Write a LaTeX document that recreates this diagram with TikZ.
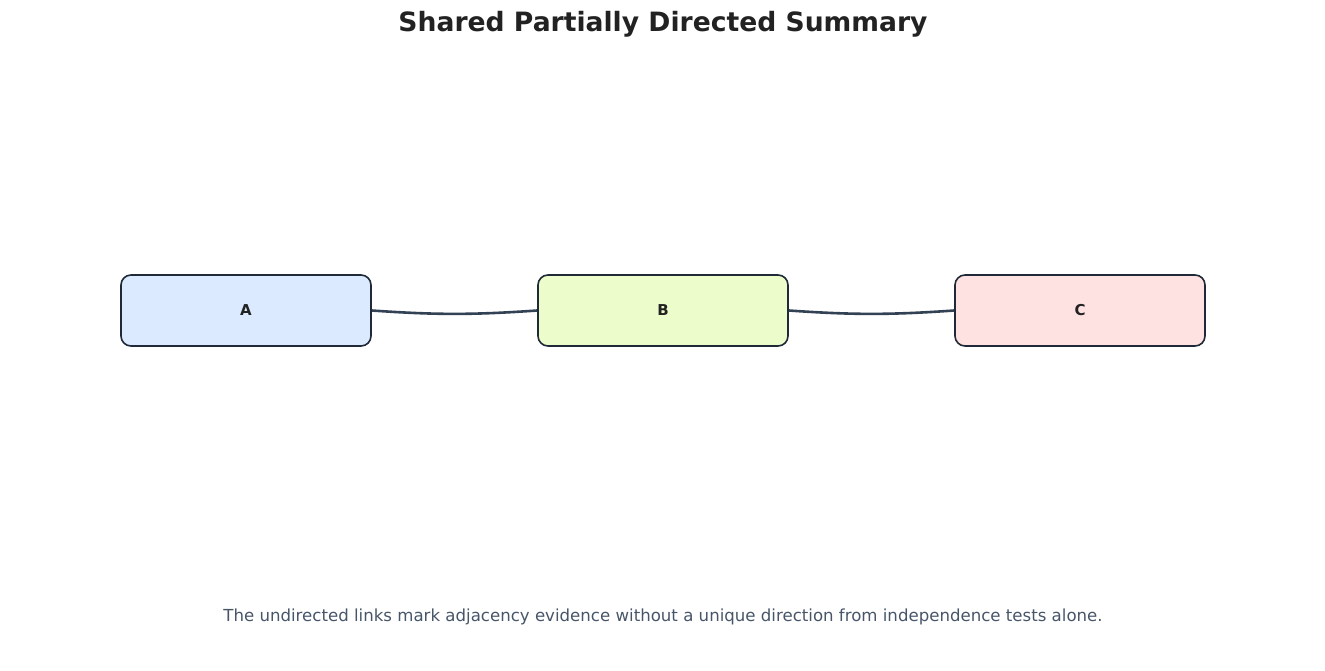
\documentclass[tikz,border=0pt]{standalone}
\usepackage{fontspec}
\setmainfont{DejaVu Sans}
\usetikzlibrary{positioning, arrows.meta, backgrounds}
\definecolor{boxline}{HTML}{1F2937}
\definecolor{linkcol}{HTML}{334155}
\definecolor{capcol}{HTML}{475569}
\definecolor{titlecol}{HTML}{222222}
\definecolor{fillA}{HTML}{DBEAFE}
\definecolor{fillB}{HTML}{ECFCCB}
\definecolor{fillC}{HTML}{FEE2E2}
\tikzset{
  varbox/.style={
    draw=boxline, line width=1.6pt, rounded corners=10pt,
    minimum width=250pt, minimum height=71pt,
    font=\bfseries\fontsize{15}{18}\selectfont, text=titlecol
  },
  undirected/.style={
    draw=linkcol, line width=2.6pt, bend right=4
  }
}

\begin{document}
\begin{tikzpicture}[x=1pt,y=-1pt,on grid]
        \useasboundingbox (0,0) rectangle (1325,671);
        % Title
        \node[font=\bfseries\fontsize{26.6}{30}\selectfont, text=titlecol] (title) at (663,24) {Shared Partially Directed Summary};
        %-----------------------------------------------
        \node[varbox, fill=fillA] (A) at (246,310.5) {A};
        \node[varbox, fill=fillB, right=417pt of A] (B) {B};
        \node[varbox, fill=fillC, right=417pt of B] (C) {C};
        %-----------------------------------------------
        \draw[undirected] (A.east) to (B.west);
        \draw[undirected] (B.east) to (C.west);
        % Caption
        \node[font=\fontsize{16.6}{20}\selectfont, text=capcol] (caption) at (663,617) {The undirected links mark adjacency evidence without a unique direction from independence tests alone.};
\end{tikzpicture}
\end{document}
